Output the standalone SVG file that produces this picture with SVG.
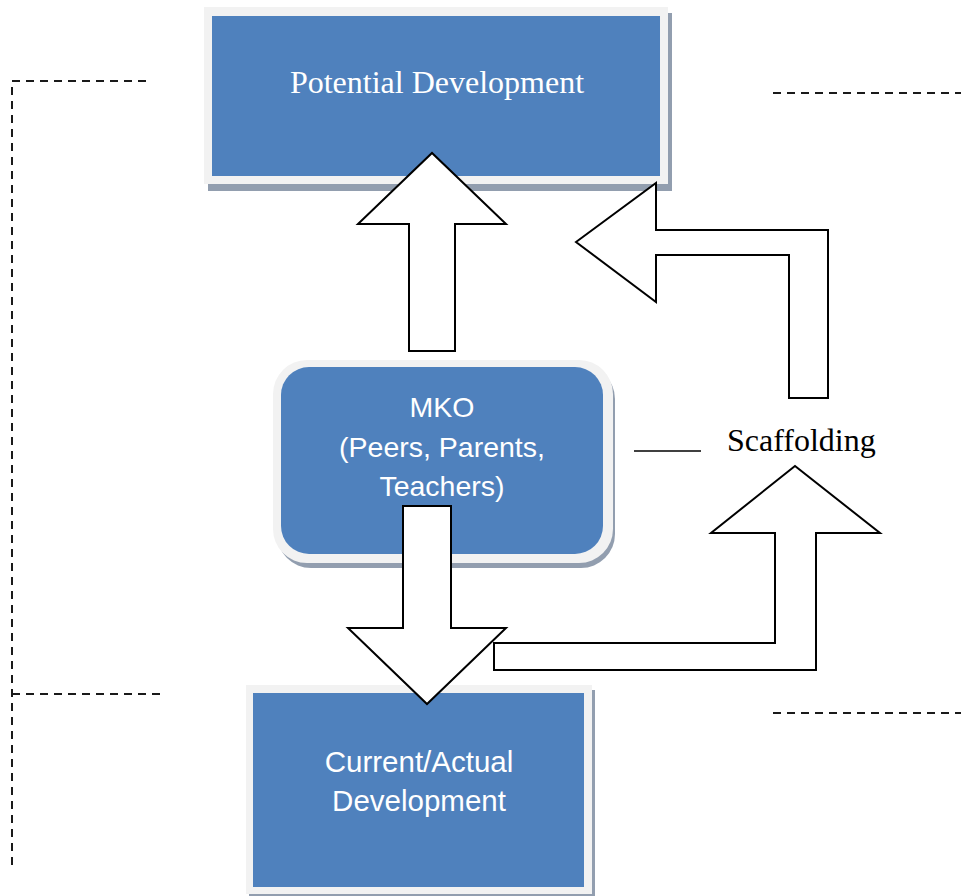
<svg xmlns="http://www.w3.org/2000/svg" width="961" height="896" viewBox="0 0 961 896">
  <style>
    .shadow { fill: #929EAF; }
    .frame { fill: #F2F2F2; }
    .blue { fill: #4F81BD; }
    .serif { font-family: "Liberation Serif", "Times New Roman", serif; font-size: 32px; }
    .sans { font-family: "Liberation Sans", Arial, sans-serif; fill: #FFFFFF; text-anchor: middle; }
    .arrow { fill: #FFFFFF; stroke: #000000; stroke-width: 2; stroke-linejoin: miter; }
    .dash { fill: none; stroke: #1A1A1A; stroke-width: 2; stroke-dasharray: 8 6; }
  </style>
  <rect width="961" height="896" fill="#FFFFFF"/>

  <g id="guides">
    <polyline class="dash" points="146,81 12,81 12,866"/>
    <line class="dash" x1="12" y1="694" x2="161" y2="694"/>
    <line class="dash" x1="773" y1="93" x2="961" y2="93"/>
    <line class="dash" x1="773" y1="713" x2="961" y2="713"/>
  </g>

  <g id="potential">
    <rect class="shadow" x="208" y="13" width="464" height="178"/>
    <rect class="frame" x="204" y="7" width="464" height="177"/>
    <rect class="blue" x="212" y="16" width="448" height="160"/>
    <text class="serif" x="437" y="93" fill="#FFFFFF" text-anchor="middle">Potential Development</text>
  </g>

  <g id="mko">
    <rect class="shadow" x="277" y="365" width="338" height="203" rx="34"/>
    <rect class="frame" x="273" y="360" width="340" height="203" rx="34"/>
    <rect class="blue" x="281" y="367" width="322" height="187" rx="28"/>
    <text class="sans" font-size="28.5" x="442" y="417">MKO</text>
    <text class="sans" font-size="28.5" x="442" y="457">(Peers, Parents,</text>
    <text class="sans" font-size="28.5" x="442" y="496">Teachers)</text>
  </g>

  <g id="current">
    <rect class="shadow" x="249" y="690" width="346" height="210"/>
    <rect class="frame" x="246" y="685" width="346" height="209"/>
    <rect class="blue" x="253" y="693" width="331" height="194"/>
    <text class="sans" font-size="29.5" x="419" y="772">Current/Actual</text>
    <text class="sans" font-size="29.5" x="419" y="811">Development</text>
  </g>

  <g id="scaffolding">
    <text class="serif" x="727" y="451" fill="#000000">Scaffolding</text>
  </g>

  <g id="connectors">
    <path class="arrow" d="M409,351 L409,224 L358,224 L432,153 L506,224 L455,224 L455,351 Z"/>
    <path class="arrow" d="M576,242 L656,183 L656,230 L828,230 L828,398 L789,398 L789,255 L656,255 L656,302 Z"/>
    <path class="arrow" d="M403,506 L451,506 L451,628 L506,628 L427,704 L348,628 L403,628 Z"/>
    <path class="arrow" d="M494,643 L775,643 L775,533 L711,533 L795,466 L880,533 L816,533 L816,670 L494,670 Z"/>
    <line x1="634" y1="451" x2="701" y2="451" stroke="#000000" stroke-width="1.5"/>
  </g>
</svg>
